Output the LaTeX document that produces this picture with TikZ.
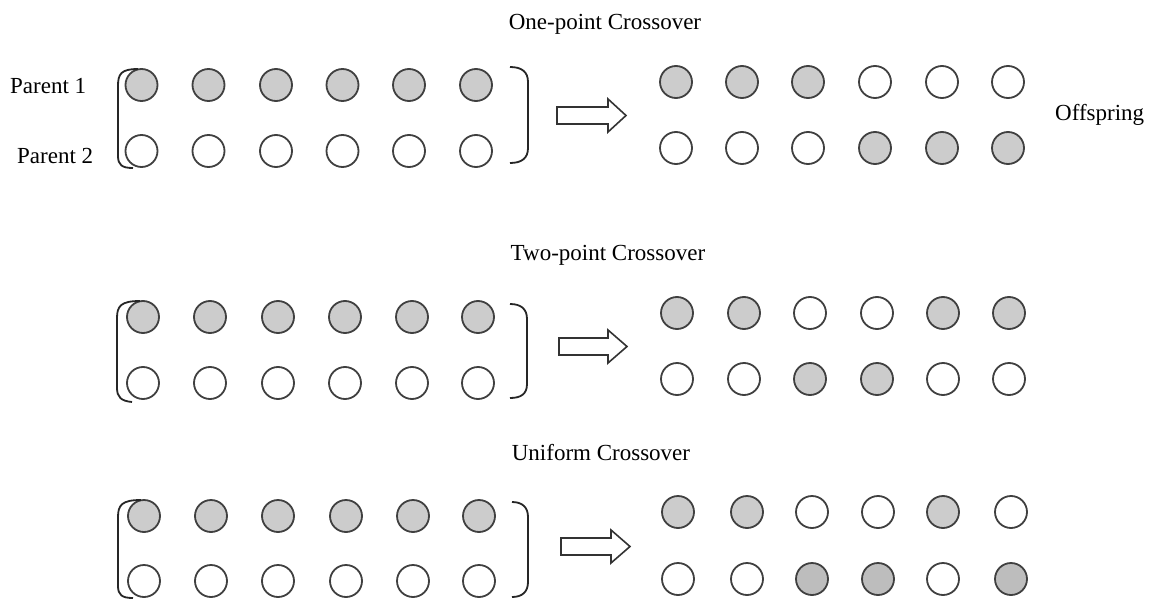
\documentclass[tikz,border=0pt]{standalone}
\usepackage{fontspec}
\setmainfont{Liberation Serif}
\begin{document}
\begin{tikzpicture}[x=1pt,y=-1pt,
  gene/.style={circle,draw=black!75,line width=1.8pt,minimum size=32pt,inner sep=0pt},
  full/.style={gene,fill=black!20},
  empty/.style={gene,fill=white},
  speck/.style={gene,fill=black!26},
  lbl/.style={font=\fontsize{23}{26}\selectfont,inner sep=0pt},
  brk/.style={draw=black!85,line width=1.8pt},
  bigarrow/.style={draw=black!80,line width=1.6pt,fill=white}]
\useasboundingbox[fill=white] (0,0) rectangle (1149,602);

% titles and labels
\node[lbl] (t1) at (605,24) {One-point Crossover};
\node[lbl] (t2) at (608,255) {Two-point Crossover};
\node[lbl] (t3) at (601,453) {Uniform Crossover};
\node[lbl,anchor=west] (p1) at (10,86) {Parent 1};
\node[lbl,anchor=west] (p2) at (17,156) {Parent 2};
\node[lbl,anchor=west] (off) at (1055,115) {Offspring};

% ---------- row 1 ----------
\foreach \x [count=\i] in {141.5,208.5,276,342.5,409,476}{
  \node[full]  (a\i) at (\x,85) {};
  \node[empty] (b\i) at (\x,151) {};
}
\foreach \x/\s [count=\i] in {676/full,742/full,808/full,875/empty,942/empty,1008/empty}{
  \node[\s] (c\i) at (\x,82) {};
}
\foreach \x/\s [count=\i] in {676/empty,742/empty,808/empty,875/full,942/full,1008/full}{
  \node[\s] (d\i) at (\x,148) {};
}
\draw[brk] (138,69) .. controls (121,69) and (118,74) .. (118,86) -- (118,156) .. controls (118,165) and (122,168) .. (133,168);
\draw[brk] (510,67) .. controls (522,67) and (528,72) .. (528,82) -- (528,148) .. controls (528,158) and (522,163) .. (510,163);
\draw[bigarrow] (557,107) -- (608,107) -- (608,99) -- (626,115.5) -- (608,132) -- (608,124) -- (557,124) -- cycle;

% ---------- row 2 ----------
\foreach \x [count=\i] in {143,210,278,345,412,478}{
  \node[full]  (e\i) at (\x,317) {};
  \node[empty] (f\i) at (\x,383) {};
}
\foreach \x/\s [count=\i] in {677/full,744/full,810/empty,877/empty,943/full,1009/full}{
  \node[\s] (g\i) at (\x,313) {};
}
\foreach \x/\s [count=\i] in {677/empty,744/empty,810/full,877/full,943/empty,1009/empty}{
  \node[\s] (h\i) at (\x,379) {};
}
\draw[brk] (140,301) .. controls (121,301) and (117,306) .. (117,318) -- (117,388) .. controls (117,397) and (121,401) .. (132,402);
\draw[brk] (510,304) .. controls (521,304) and (527,309) .. (527,319) -- (527,384) .. controls (527,394) and (521,398) .. (510,398);
\draw[bigarrow] (559,338) -- (608,338) -- (608,330) -- (627,346.5) -- (608,363) -- (608,355) -- (559,355) -- cycle;

% ---------- row 3 ----------
\foreach \x [count=\i] in {144,211,278,346,413,479}{
  \node[full]  (k\i) at (\x,516) {};
  \node[empty] (l\i) at (\x,581) {};
}
\foreach \x/\s [count=\i] in {678/full,747/full,812/empty,878/empty,943/full,1011/empty}{
  \node[\s] (m\i) at (\x,512) {};
}
\foreach \x/\s [count=\i] in {678/empty,747/empty,812/speck,878/speck,943/empty,1011/speck}{
  \node[\s] (n\i) at (\x,579) {};
}
\draw[brk] (141,500) .. controls (122,500) and (118,505) .. (118,517) -- (118,586) .. controls (118,595) and (122,598) .. (133,598);
\draw[brk] (512,502) .. controls (522,502) and (528,507) .. (528,517) -- (528,582) .. controls (528,592) and (522,597) .. (512,597);
\draw[bigarrow] (561,538) -- (611,538) -- (611,530) -- (630,546.5) -- (611,563) -- (611,555) -- (561,555) -- cycle;
\end{tikzpicture}
\end{document}
